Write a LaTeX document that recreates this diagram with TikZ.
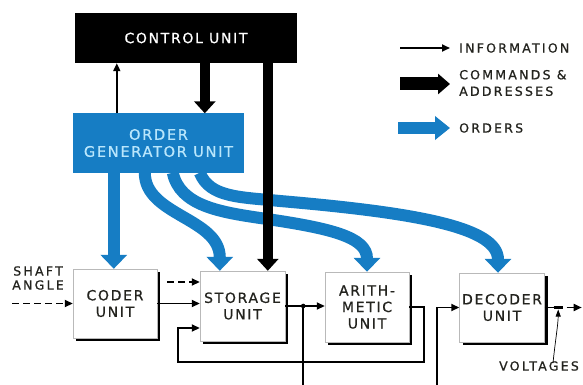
\documentclass[tikz,border=0pt]{standalone}
\usepackage{fontspec}
\setmainfont{DejaVu Sans}[LetterSpace=12, FakeBold=0.8]
\newfontfamily\legfont{DejaVu Sans}[LetterSpace=18, FakeBold=0.8]
\usetikzlibrary{arrows.meta,shadows,calc}
\definecolor{ordblue}{RGB}{22,125,196}
\definecolor{ordtext}{RGB}{185,230,252}
\definecolor{txt}{RGB}{35,35,30}
\tikzset{
  unitbox/.style={draw=gray!55, line width=0.4pt, fill=white,
    general shadow={fill=black, shadow xshift=3pt, shadow yshift=-3pt},
    inner sep=0pt, align=center, text=txt, font=\fontsize{14}{16.5}\selectfont},
  legtext/.style={anchor=west, inner sep=0pt, align=left, text=txt, font=\legfont\fontsize{12.5}{16}\selectfont},
  info/.style={line width=1.7pt, -{Triangle[length=8pt,width=7pt]}},
  infoline/.style={line width=1.7pt},
  cmd/.style={line width=10pt, -{Triangle[length=12pt,width=21pt]}},
  ord/.style={ordblue, line width=12pt, -{Triangle[length=14pt,width=26pt]}},
  dsh/.style={dash pattern=on 7pt off 4pt}
}
\begin{document}
\begin{tikzpicture}[x=1pt,y=-1pt]
\useasboundingbox (0,0) rectangle (583,385);
\fill[white] (0,0) rectangle (583,385);
\clip (0,0) rectangle (583,385);

% units
\node[fill=black, minimum width=222pt, minimum height=50pt, inner sep=0pt,
      text=white, font=\fontsize{14}{16}\selectfont] (ctrl) at (186,38) {CONTROL UNIT};
\node[fill=ordblue, minimum width=171pt, minimum height=59pt, inner sep=0pt, align=center,
      text=ordtext, font=\fontsize{14.5}{17}\selectfont] (ogu) at (158.5,143) {ORDER\\GENERATOR UNIT};
\node[unitbox, minimum width=84pt, minimum height=69pt] (coder) at (115,303.5) {CODER\\UNIT};
\node[unitbox, minimum width=85pt, minimum height=70pt] (storage) at (242.5,306) {STORAGE\\UNIT};
\node[unitbox, minimum width=84pt, minimum height=70pt, font=\fontsize{14}{16.5}\selectfont] (arith) at (367,307) {ARITH-\\METIC\\UNIT};
\node[unitbox, minimum width=85pt, minimum height=69pt] (decoder) at (502,307.5) {DECODER\\UNIT};

% orders (blue)
\draw[ord] ([xshift=41pt]ogu.south west) -- ([xshift=41pt]coder.north west);
\draw[ord] ([xshift=72pt]ogu.south west) .. controls +(0,43) and ($([xshift=20pt]storage.north west)+(0,-53)$) .. ([xshift=20pt]storage.north west);
\draw[ord] ([xshift=100pt]ogu.south west) .. controls +(7,33) and (220,212) .. (260,218)
   .. controls (330,228) and ($(arith.north)+(0,-35)$) .. (arith.north);
\draw[ord] ([xshift=127pt]ogu.south west) .. controls +(10,25) and (240,197) .. (280,201)
   .. controls (420,213) and ($([xshift=-4pt]decoder.north)+(0,-45)$) .. ([xshift=-4pt]decoder.north);

% commands (black)
\draw[cmd] ([xshift=130pt]ctrl.south west) -- ([xshift=132pt]ogu.north west);
\draw[cmd] ([xshift=193pt]ctrl.south west) -- ([xshift=68pt]storage.north west);
\draw[info] ([xshift=44pt]ogu.north west) -- ([xshift=42pt]ctrl.south west);

% information paths
\coordinate (sa) at (12,303.5);
\draw[info, dsh] (sa) -- (coder.west);
\coordinate (dsin) at (167,282);
\draw[info, dsh] (dsin) -- (dsin -| storage.west);
\draw[info] (coder.east) -- (coder.east -| storage.west);
\draw[info] (storage.east) -- (storage.east -| arith.west);
\path (storage.east) ++(18,0) coordinate (j1);
\fill (j1) circle (2.3pt);
\draw[info] (j1) -- ++(0,100) -| ($(decoder.west)+(-22,0)$) -- (decoder.west);
\coordinate (fbl) at (178,362);
\draw[info] (arith.east) -- ++(15,0) |- (fbl) |- ([yshift=-22pt]storage.west);

% decoder output
\draw[infoline] (decoder.east) -- ++(9,0) coordinate (vt1);
\draw[line width=3.2pt] (vt1) -- ++(9,0) coordinate (vt2);
\coordinate (vt) at ($(vt1)!0.5!(vt2)$);
\draw[info] ($(vt2)+(4,0)$) -- ($(vt2)+(19,0)$);
\node[legtext, anchor=center] (volt) at (539,366) {VOLTAGES};
\draw[line width=0.7pt, -{Triangle[length=7pt,width=5pt]}] ([xshift=14pt,yshift=-2pt]volt.north) .. controls +(2,-20) and +(0,14) .. ([yshift=-2pt]vt);

% shaft angle
\node[legtext, anchor=center, align=center, font=\legfont\fontsize{12.5}{14}\selectfont] (shaft) at (38,278) {SHAFT\\ANGLE};

% legend
\node[legtext] (linfo) at (459,48) {INFORMATION};
\draw[info] ([xshift=-59pt]linfo.west) -- ([xshift=-9pt]linfo.west);
\node[legtext, font=\legfont\fontsize{12.5}{16.5}\selectfont] (lcmd) at (459,83) {COMMANDS \&\\ADDRESSES};
\draw[line width=13pt, -{Triangle[length=12pt,width=20pt]}] ([xshift=-59pt,yshift=-1pt]lcmd.west) -- ([xshift=-9pt,yshift=-1pt]lcmd.west);
\node[legtext] (lord) at (459,128) {ORDERS};
\draw[ordblue, line width=12pt, -{Triangle[length=15pt,width=23pt]}] ([xshift=-61pt]lord.west) -- ([xshift=-9pt]lord.west);
\end{tikzpicture}
\end{document}
